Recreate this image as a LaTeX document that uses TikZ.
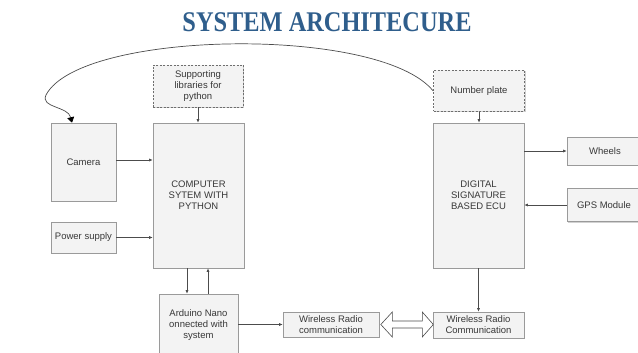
\documentclass[tikz,border=0pt]{standalone}
\usepackage{fontspec}
\setmainfont{Liberation Sans}
\newfontfamily\titlefont{Liberation Serif}
\usetikzlibrary{arrows.meta,shadows}
\definecolor{boxfill}{HTML}{F3F3F3}
\definecolor{boxborder}{HTML}{9A9A9A}
\definecolor{dashcol}{HTML}{6E6E6E}
\definecolor{linecol}{HTML}{4C4C4C}
\definecolor{txt}{HTML}{383838}
\definecolor{titleblue}{HTML}{2F5E8C}
\begin{document}
\begin{tikzpicture}[x=1pt,y=-1pt,
  box/.style={draw=boxborder, fill=boxfill, line width=0.6pt, inner sep=0pt,
    align=center, font=\fontsize{9.5}{11}\selectfont, text=txt,
    drop shadow={shadow xshift=1pt, shadow yshift=-1pt, fill=black, opacity=0.18}},
  dbox/.style={box, draw=dashcol, dash pattern=on 2pt off 1.5pt},
  conn/.style={draw=linecol, line width=0.65pt, -{Latex[length=3.5pt,width=3pt]}}]
\fill[white] (0,0) rectangle (638,353);
\useasboundingbox (0,0) rectangle (638,353);

\node[font=\titlefont\bfseries\fontsize{28.5}{30}\selectfont, text=titleblue, inner sep=0pt] (title) at (327,22) {\scalebox{0.855}[1]{SYSTEM ARCHITECURE}};

\node[dbox, minimum width=90pt, minimum height=42pt] (sup) at (198,86) {Supporting\\libraries for\\python};
\node[dbox, minimum width=91pt, minimum height=41pt] (np) at (479,91) {Number plate};
\node[box, minimum width=65pt, minimum height=78pt] (cam) at (83.5,162) {Camera};
\node[box, minimum width=91pt, minimum height=145pt] (comp) at (198.5,195.5) {COMPUTER\\SYTEM WITH\\PYTHON};
\node[box, minimum width=65pt, minimum height=31pt] (pow) at (83.5,237.5) {Power supply};
\node[box, minimum width=91pt, minimum height=145pt] (ecu) at (478.5,195.5) {DIGITAL\\SIGNATURE\\BASED ECU};
\node[box, minimum width=76pt, minimum height=28pt] (wh) at (605,151) {Wheels};
\node[box, minimum width=74pt, minimum height=33pt] (gps) at (604,205) {GPS Module};
\node[box, minimum width=79pt, minimum height=62pt] (ard) at (198.5,325) {Arduino Nano\\onnected with\\system};
\node[box, minimum width=96pt, minimum height=25pt] (wl) at (331,324.5) {Wireless Radio\\communication};
\node[box, minimum width=91pt, minimum height=26pt] (wr) at (478.5,325) {Wireless Radio\\Communication};

\draw[conn] (sup.south) -- (sup.south |- comp.north);
\draw[conn] (np.south) -- (np.south |- ecu.north);
\draw[conn] ([yshift=2pt]cam.east) -- ([yshift=2pt]cam.east -| comp.west);
\draw[conn] (pow.east) -- (pow.east -| comp.west);
\draw[conn] (ecu.east |- wh.west) -- (wh.west);
\draw[conn] (gps.west) -- (gps.west -| ecu.east);
\draw[conn] ([xshift=-11.5pt]comp.south) -- ([xshift=-11.5pt]ard.north);
\draw[conn] ([xshift=9.5pt]ard.north) -- ([xshift=9.5pt]comp.south);
\draw[conn] (ard.east |- wl.west) -- (wl.west);
\draw[conn] (ecu.south) -- (wr.north);

\coordinate (da1) at ([xshift=1.5pt]wl.east);
\draw[draw=linecol, fill=white, line width=0.6pt] (da1) -- ++(11.5,-12.5) -- ++(0,9) -- ++(30,0) -- ++(0,-9)
  -- ++(11,12.5) -- ++(-11,12.5) -- ++(0,-9) -- ++(-30,0) -- ++(0,9) -- cycle;

\draw[draw=linecol, line width=0.7pt, -{Triangle[width=7pt,length=5.5pt,fill=black,color=black]}] (np.west)
  .. controls (380,25) and (80,30) .. (46,95)
  .. controls (40,108) and (68,106) .. ([xshift=-11.5pt]cam.north);
\end{tikzpicture}
\end{document}
